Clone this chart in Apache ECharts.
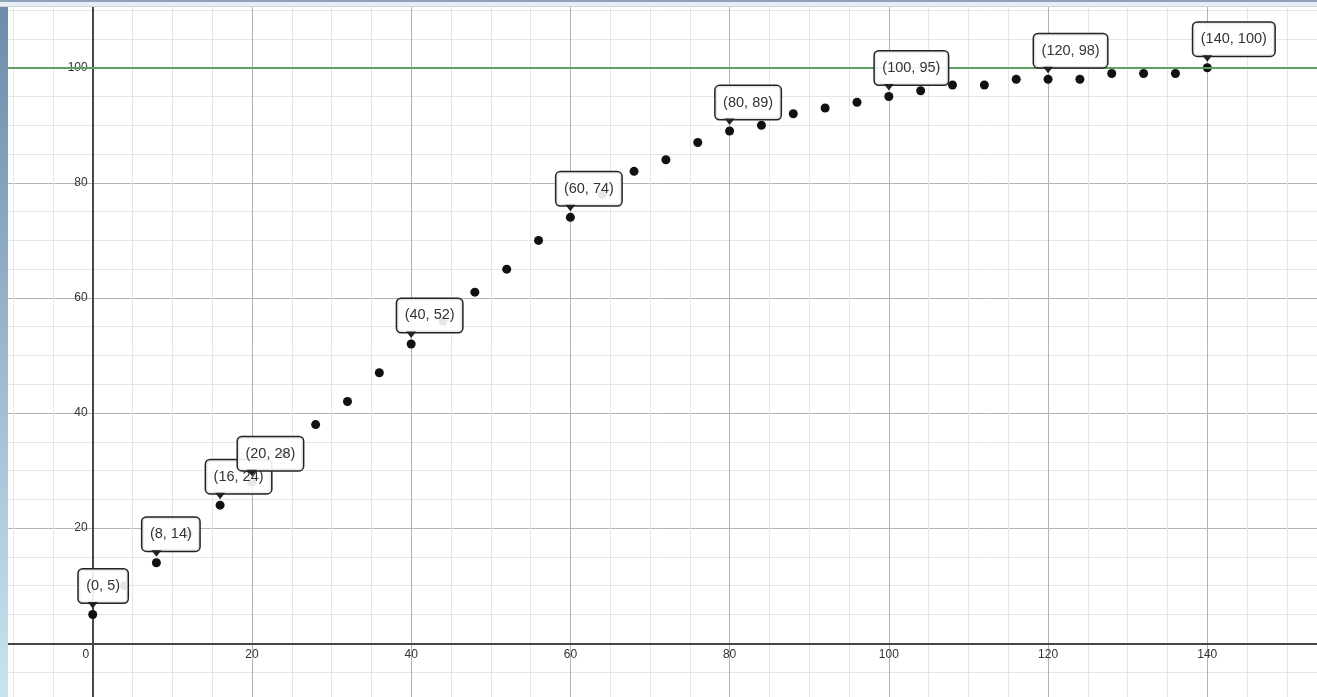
<!DOCTYPE html>
<html>
<head>
<meta charset="utf-8">
<script src="https://cdn.jsdelivr.net/npm/echarts@6/dist/echarts.min.js"></script>
<style>
html,body{margin:0;padding:0;background:#fff;}
#chart{width:1317px;height:697px;}
</style>
</head>
<body>
<div id="chart"></div>
<script>
// ---- data ----
const xValues = [0, 4, 8, 12, 16, 20, 24, 28, 32, 36, 40, 44, 48, 52, 56, 60, 64, 68, 72, 76, 80, 84, 88, 92, 96, 100, 104, 108, 112, 116, 120, 124, 128, 132, 136, 140];
const yValues = [5, 10, 14, 19, 24, 28, 33, 38, 42, 47, 52, 56, 61, 65, 70, 74, 78, 82, 84, 87, 89, 90, 92, 93, 94, 95, 96, 97, 97, 98, 98, 98, 99, 99, 99, 100];
const labeledX = [0, 8, 16, 20, 40, 60, 80, 100, 120, 140];
const targetY = 100;
const xTicks = [-20, 0, 20, 40, 60, 80, 100, 120, 140, 160];
const yTicks = [-20, 0, 20, 40, 60, 80, 100, 120];

const points = xValues.map((x, i) => [x, yValues[i]]);
const labeled = points.filter(p => labeledX.indexOf(p[0]) >= 0);

const W = 1317, H = 697;
const gridL = -66.5, gridR = -49.5, gridT = -47.4, gridB = -61.4;
const zeroX = 92.7, zeroY = 643.3;

const chart = echarts.init(document.getElementById('chart'), null, {renderer: 'canvas'});

const axisLabelStyle = {color: '#333', fontSize: 12, fontFamily: 'Arial, "Liberation Sans", sans-serif'};

const option = {
  backgroundColor: '#fff',
  animation: false,
  grid: {left: gridL, right: gridR, top: gridT, bottom: gridB, containLabel: false, outerBoundsMode: 'none'},
  xAxis: {
    type: 'value',
    position: 'bottom',
    offset: -((H - gridB) - zeroY),
    min: xTicks[0], max: xTicks[xTicks.length - 1], interval: 20,
    axisLine: {onZero: false, lineStyle: {color: '#474747', width: 2}},
    axisTick: {show: false},
    axisLabel: Object.assign({}, axisLabelStyle, {
      margin: 5,
      formatter: v => v === 0 ? '{z|0}' : String(v),
      rich: {z: Object.assign({}, axisLabelStyle, {padding: [0, 14, 0, 0]})}
    }),
    splitLine: {show: true, lineStyle: {color: '#b4b4b4', width: 1}},
    minorTick: {show: false, splitNumber: 4},
    minorSplitLine: {show: true, lineStyle: {color: '#e6e6e6', width: 1}}
  },
  yAxis: {
    type: 'value',
    position: 'left',
    offset: -(zeroX - gridL),
    min: yTicks[0], max: yTicks[yTicks.length - 1], interval: 20,
    axisLine: {onZero: false, lineStyle: {color: '#474747', width: 2}},
    axisTick: {show: false},
    axisLabel: Object.assign({}, axisLabelStyle, {
      margin: 5,
      formatter: v => v === 0 ? '' : String(v)
    }),
    splitLine: {show: true, lineStyle: {color: '#b4b4b4', width: 1}},
    minorTick: {show: false, splitNumber: 4},
    minorSplitLine: {show: true, lineStyle: {color: '#e6e6e6', width: 1}}
  },
  series: [
    {
      type: 'scatter',
      data: points,
      symbolSize: 9,
      itemStyle: {color: '#111', opacity: 1},
      z: 3,
      markLine: {
        silent: true,
        symbol: 'none',
        label: {show: false},
        lineStyle: {color: '#5f9f63', width: 2, type: 'solid'},
        data: [{yAxis: targetY}]
      }
    },
    {
      type: 'custom',
      data: labeled,
      z: 6,
      clip: false,
      renderItem: function (params, api) {
        const x = api.value(0), y = api.value(1);
        const p = api.coord([x, y]);
        const boxBottom = p[1] - 12;
        return {
          type: 'group',
          children: [
            {
              type: 'text',
              x: p[0] - 14,
              y: boxBottom,
              z2: 1,
              style: {
                text: '(' + x + ', ' + y + ')',
                fill: '#333',
                fontSize: 14.5,
                fontFamily: 'Arial, "Liberation Sans", sans-serif',
                lineHeight: 17,
                align: 'left',
                verticalAlign: 'bottom',
                padding: [8, 7.5, 8, 7.5],
                backgroundColor: 'rgba(255,255,255,0.9)',
                borderColor: '#222',
                borderWidth: 1.5,
                borderRadius: 4
              }
            },
            {
              type: 'polygon',
              z2: 2,
              shape: {points: [[p[0] - 5, boxBottom - 0.5], [p[0] + 5, boxBottom - 0.5], [p[0], boxBottom + 6]]},
              style: {fill: '#222'}
            }
          ]
        };
      }
    }
  ],
  graphic: [
    {type: 'rect', z: 100, shape: {x: 0, y: 0, width: W, height: 2}, style: {fill: '#8ea3b8'}},
    {type: 'rect', z: 100, shape: {x: 0, y: 2, width: W, height: 4}, style: {fill: '#e6eff6'}},
    {type: 'rect', z: 100, shape: {x: 0, y: 6, width: W, height: 1}, style: {fill: '#cdd3d9'}},
    {type: 'rect', z: 100, shape: {x: 0, y: 7, width: 8, height: H - 7},
      style: {fill: new echarts.graphic.LinearGradient(0, 0, 0, 1, [
        {offset: 0, color: '#6d8cab'}, {offset: 1, color: '#c9e3ef'}
      ])}}
  ]
};

chart.setOption(option);
</script>
</body>
</html>
